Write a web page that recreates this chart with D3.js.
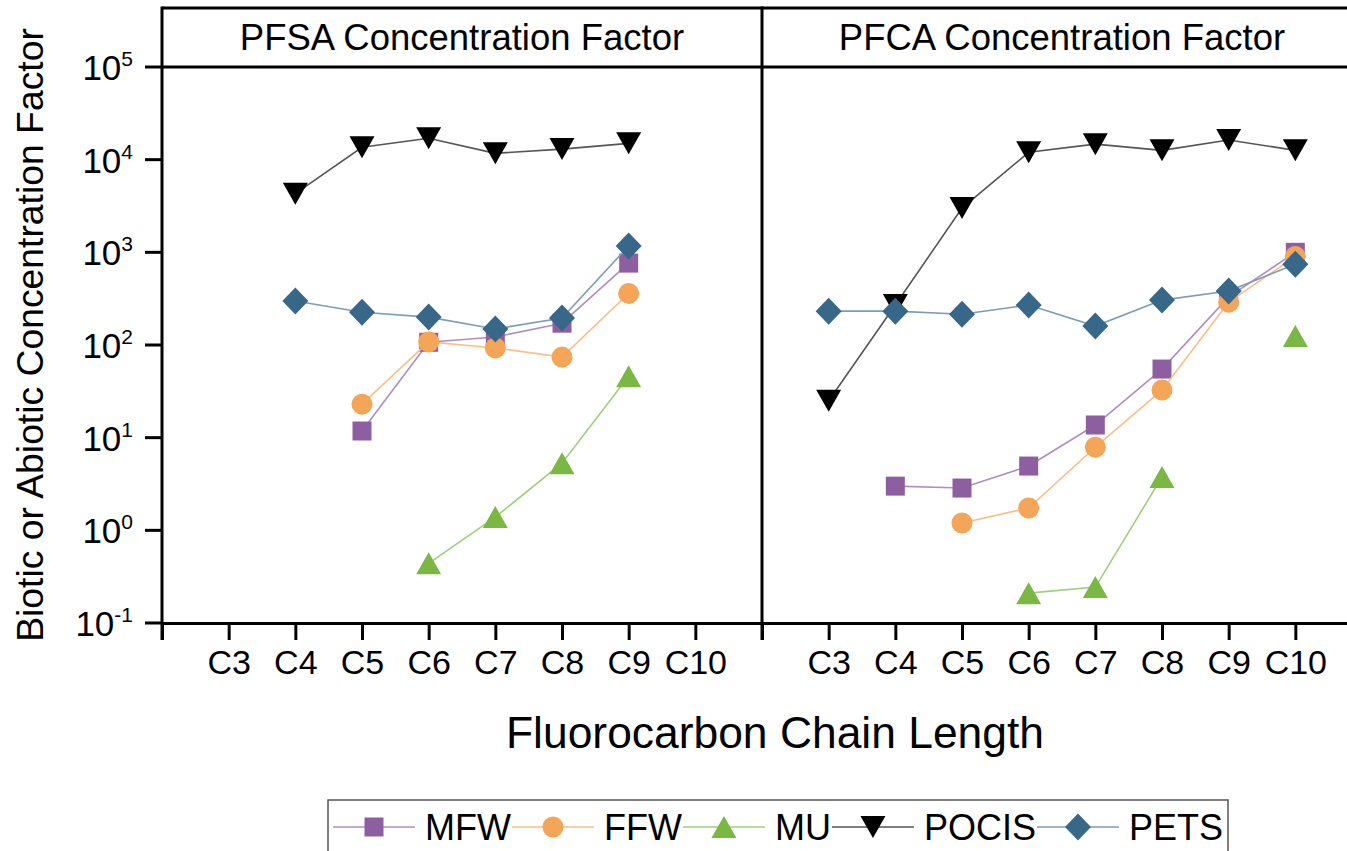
<!DOCTYPE html>
<html>
<head>
<meta charset="utf-8">
<script src="https://cdn.jsdelivr.net/npm/d3@7"></script>
<style>
  html, body { margin: 0; padding: 0; background: #fff; }
  svg { display: block; font-family: "Liberation Sans", Arial, sans-serif; }
</style>
</head>
<body>
<svg id="chart" width="1347" height="851"></svg>
<script>
// ---- data: concentration factors by fluorocarbon chain length (C3..C10) ----
const chainLengths = [3, 4, 5, 6, 7, 8, 9, 10];
const chainLabels = ["C3", "C4", "C5", "C6", "C7", "C8", "C9", "C10"];
const panelTitles = ["PFSA Concentration Factor", "PFCA Concentration Factor"];
const seriesNames = ["MFW", "FFW", "MU", "POCIS", "PETS"];
const yTickExponents = [-1, 0, 1, 2, 3, 4, 5];

// PFSA panel
const pfsaMFW   = [null, null, 11.8, 107, 122, 172, 765, null];
const pfsaFFW   = [null, null, 23, 108, 93, 74, 360, null];
const pfsaMU    = [null, null, null, 0.44, 1.39, 5.3, 46, null];
const pfsaPOCIS = [null, 4300, 13600, 17000, 11700, 13000, 15000, null];
const pfsaPETS  = [null, 298, 226, 200, 149, 195, 1170, null];

// PFCA panel
const pfcaMFW   = [null, 3.0, 2.86, 4.94, 13.7, 55, 330, 1000];
const pfcaFFW   = [null, null, 1.2, 1.74, 7.9, 32.6, 290, 900];
const pfcaMU    = [null, null, null, 0.21, 0.244, 3.76, null, 125];
const pfcaPOCIS = [25, 270, 3000, 12000, 14700, 12600, 16300, 12600];
const pfcaPETS  = [232, 232, 215, 270, 160, 305, 382, 746];

// ---- styles ----
const styles = {
  MFW:   { fill: "#8d5fa1", line: "#ad8fc4", shape: "square" },
  FFW:   { fill: "#f4a557", line: "#f8bf8a", shape: "circle" },
  MU:    { fill: "#7ab843", line: "#9fcf7c", shape: "triUp" },
  POCIS: { fill: "#000000", line: "#555555", shape: "triDown" },
  PETS:  { fill: "#376789", line: "#7c9db4", shape: "diamond" }
};

const panels = [
  { title: panelTitles[0], series: [pfsaMFW, pfsaFFW, pfsaMU, pfsaPOCIS, pfsaPETS] },
  { title: panelTitles[1], series: [pfcaMFW, pfcaFFW, pfcaMU, pfcaPOCIS, pfcaPETS] }
];

// marker path centred on (0,0), bounding-box centred
function markerPath(shape) {
  switch (shape) {
    case "square":  return "M-9.5,-9.5H9.5V9.5H-9.5Z";
    case "circle":  return d3.symbol(d3.symbolCircle, Math.PI * 10.5 * 10.5)();
    case "triUp":   return "M0,-11L12.5,11L-12.5,11Z";
    case "triDown": return "M0,11L12.5,-11L-12.5,-11Z";
    case "diamond": return "M0,-13.5L13,0L0,13.5L-13,0Z";
  }
}

const svg = d3.select("#chart");

const frameTop = 8, headerBottom = 67, plotBottom = 623;
const panelLeft = [162, 762];
const panelWidth = 600;

const y = d3.scaleLog().domain([0.1, 1e5]).range([plotBottom, headerBottom]);

const axisColor = "#000";
const axisWidth = 3;

panels.forEach((panel, pi) => {
  const x0 = panelLeft[pi];
  const x = d3.scaleLinear().domain([2, 11]).range([x0, x0 + panelWidth]);
  const g = svg.append("g");

  // header band and frame
  g.append("line").attr("x1", x0).attr("x2", x0 + panelWidth)
    .attr("y1", frameTop).attr("y2", frameTop)
    .attr("stroke", axisColor).attr("stroke-width", axisWidth);
  g.append("line").attr("x1", x0).attr("x2", x0 + panelWidth)
    .attr("y1", headerBottom).attr("y2", headerBottom)
    .attr("stroke", axisColor).attr("stroke-width", axisWidth);
  g.append("text")
    .attr("x", x0 + panelWidth / 2).attr("y", 50)
    .attr("text-anchor", "middle")
    .attr("font-size", 36.5)
    .text(panel.title);

  // bottom axis with chain-length ticks
  const xAxis = d3.axisBottom(x)
    .tickValues([2].concat(chainLengths))
    .tickSize(17)
    .tickSizeOuter(0)
    .tickPadding(10)
    .tickFormat(d => d === 2 ? "" : chainLabels[chainLengths.indexOf(d)]);
  const xg = g.append("g")
    .attr("transform", `translate(0,${plotBottom})`)
    .call(xAxis);
  xg.select(".domain").attr("stroke", axisColor).attr("stroke-width", axisWidth);
  xg.selectAll(".tick line").attr("stroke", axisColor).attr("stroke-width", axisWidth);
  xg.selectAll(".tick text")
    .attr("font-size", 34)
    .attr("font-family", "Liberation Sans, Arial, sans-serif")
    .attr("fill", "#000");

  // left frame line (also the panel divider)
  g.append("line").attr("x1", x0).attr("x2", x0)
    .attr("y1", frameTop - 1.5).attr("y2", plotBottom + 17)
    .attr("stroke", axisColor).attr("stroke-width", axisWidth);

  // y ticks on the first panel only
  if (pi === 0) {
    const yt = g.append("g");
    yTickExponents.forEach(e => {
      const ty = y(Math.pow(10, e));
      yt.append("line").attr("x1", x0 - 17).attr("x2", x0)
        .attr("y1", ty).attr("y2", ty)
        .attr("stroke", axisColor).attr("stroke-width", axisWidth);
      const t = yt.append("text")
        .attr("x", x0 - 29).attr("y", ty + 13)
        .attr("text-anchor", "end")
        .attr("font-size", 35);
      t.append("tspan").text("10");
      t.append("tspan").attr("dy", -14).attr("font-size", 21).text(String(e));
    });
  }

  // series lines and markers
  const plotArea = g.append("g");
  panel.series.forEach((vals, si) => {
    const name = seriesNames[si];
    const st = styles[name];
    const pts = chainLengths.map((c, i) => ({ c, v: vals[i] }));
    const line = d3.line()
      .defined(d => d.v != null)
      .x(d => x(d.c))
      .y(d => y(d.v));
    plotArea.append("path")
      .datum(pts)
      .attr("d", line)
      .attr("fill", "none")
      .attr("stroke", st.line)
      .attr("stroke-width", 1.6);
    plotArea.selectAll(null)
      .data(pts.filter(d => d.v != null))
      .join("path")
      .attr("d", markerPath(st.shape))
      .attr("transform", d => `translate(${x(d.c)},${y(d.v)})`)
      .attr("fill", st.fill);
  });
});

// axis titles
svg.append("text")
  .attr("transform", "translate(43,335) rotate(-90)")
  .attr("text-anchor", "middle")
  .attr("font-size", 37.3)
  .text("Biotic or Abiotic Concentration Factor");

svg.append("text")
  .attr("x", 775).attr("y", 748)
  .attr("text-anchor", "middle")
  .attr("font-size", 44.4)
  .text("Fluorocarbon Chain Length");

// legend
const legend = svg.append("g");
legend.append("rect")
  .attr("x", 328).attr("y", 800).attr("width", 900).attr("height", 80)
  .attr("fill", "#fff").attr("stroke", "#555").attr("stroke-width", 1.5);
let lx = 333;
const ly = 827;
seriesNames.forEach(name => {
  const st = styles[name];
  legend.append("line")
    .attr("x1", lx).attr("x2", lx + 82)
    .attr("y1", ly).attr("y2", ly)
    .attr("stroke", st.line).attr("stroke-width", 1.6);
  legend.append("path")
    .attr("d", markerPath(st.shape))
    .attr("transform", `translate(${lx + 41},${ly})`)
    .attr("fill", st.fill);
  const t = legend.append("text")
    .attr("x", lx + 92).attr("y", ly + 13)
    .attr("font-size", 36)
    .text(name);
  lx = lx + 92 + t.node().getComputedTextLength() + 1;
});
</script>
</body>
</html>
